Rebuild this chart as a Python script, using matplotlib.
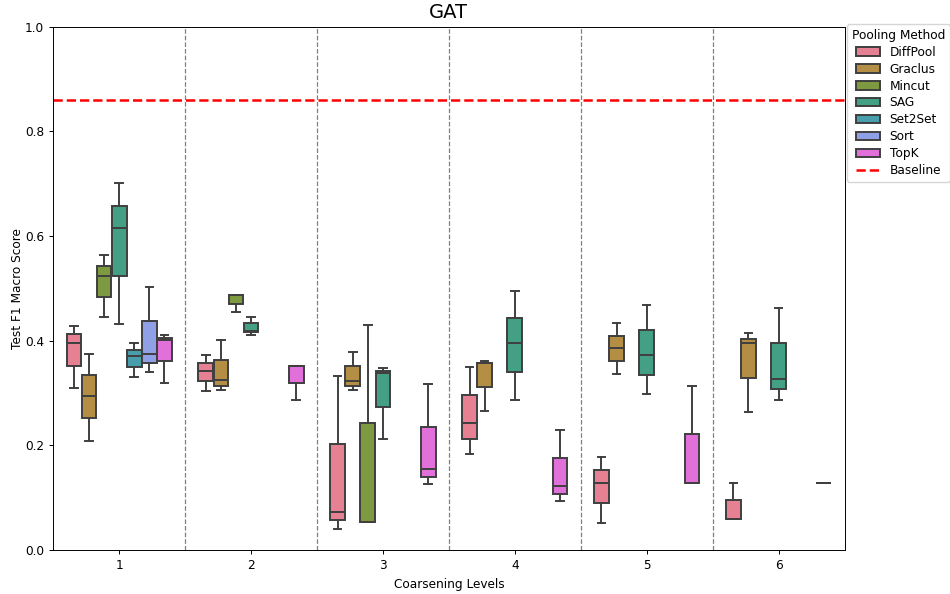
import matplotlib
matplotlib.use("Agg")
import matplotlib.pyplot as plt
from matplotlib.patches import Patch
from matplotlib.lines import Line2D
import seaborn as sns

levels = ["1", "2", "3", "4", "5", "6"]
methods = ["DiffPool", "Graclus", "Mincut", "SAG", "Set2Set", "Sort", "TopK"]
baseline = 0.86

# five-number summaries per method: (level, whislo, q1, med, q3, whishi)
diffpool = [(1, 0.309, 0.352, 0.395, 0.412, 0.429),
            (2, 0.303, 0.323, 0.342, 0.358, 0.373),
            (3, 0.041, 0.057, 0.073, 0.202, 0.332),
            (4, 0.183, 0.212, 0.242, 0.296, 0.349),
            (5, 0.052, 0.090, 0.129, 0.153, 0.178),
            (6, 0.059, 0.059, 0.059, 0.095, 0.129)]
graclus = [(1, 0.208, 0.252, 0.295, 0.335, 0.374),
           (2, 0.305, 0.314, 0.325, 0.363, 0.402),
           (3, 0.306, 0.314, 0.323, 0.351, 0.379),
           (4, 0.266, 0.311, 0.358, 0.358, 0.361),
           (5, 0.336, 0.361, 0.386, 0.409, 0.433),
           (6, 0.263, 0.328, 0.395, 0.403, 0.414)]
mincut = [(1, 0.446, 0.484, 0.524, 0.543, 0.564),
          (2, 0.454, 0.471, 0.487, 0.488, 0.488),
          (3, 0.054, 0.054, 0.054, 0.242, 0.430)]
sag = [(1, 0.432, 0.524, 0.616, 0.658, 0.701),
       (2, 0.411, 0.416, 0.419, 0.433, 0.446),
       (3, 0.212, 0.274, 0.339, 0.342, 0.347),
       (4, 0.286, 0.340, 0.395, 0.444, 0.495),
       (5, 0.298, 0.334, 0.372, 0.420, 0.468),
       (6, 0.287, 0.307, 0.327, 0.395, 0.463)]
set2set = [(1, 0.330, 0.350, 0.370, 0.382, 0.395)]
sort = [(1, 0.340, 0.358, 0.375, 0.438, 0.502)]
topk = [(1, 0.320, 0.361, 0.402, 0.406, 0.411),
        (2, 0.287, 0.319, 0.351, 0.351, 0.352),
        (3, 0.126, 0.140, 0.154, 0.236, 0.317),
        (4, 0.094, 0.108, 0.122, 0.175, 0.229),
        (5, 0.129, 0.129, 0.129, 0.222, 0.314),
        (6, 0.129, 0.129, 0.129, 0.129, 0.129)]
summaries = [diffpool, graclus, mincut, sag, set2set, sort, topk]

palette = [sns.desaturate(c, 0.75) for c in sns.color_palette("husl", len(methods))]
edge = "#3f3f3f"
lw = 1.4

plt.rcParams.update({
    "font.size": 8.7,
    "xtick.major.size": 3,
    "ytick.major.size": 3,
    "xtick.major.width": 0.7,
    "ytick.major.width": 0.7,
    "axes.linewidth": 0.7,
})

fig = plt.figure(figsize=(9.5, 5.94), dpi=100)
ax = fig.add_axes([0.056, 0.074, 0.833, 0.881])

n = len(methods)
w = 0.8 / n
for i, (name, rows) in enumerate(zip(methods, summaries)):
    offset = -0.4 + w * (i + 0.5)
    stats, pos = [], []
    for lvl, lo, q1, med, q3, hi in rows:
        stats.append(dict(whislo=lo, q1=q1, med=med, q3=q3, whishi=hi, fliers=[]))
        pos.append(levels.index(str(lvl)) + offset)
    ax.bxp(stats, positions=pos, widths=w * 0.98, patch_artist=True,
           showfliers=False, capwidths=w * 0.5,
           boxprops=dict(facecolor=palette[i], edgecolor=edge, linewidth=lw),
           medianprops=dict(color=edge, linewidth=lw),
           whiskerprops=dict(color=edge, linewidth=lw),
           capprops=dict(color=edge, linewidth=lw),
           manage_ticks=False)

for k in range(len(levels) - 1):
    ax.axvline(k + 0.5, color="gray", linestyle="--", linewidth=0.9)

ax.axhline(baseline, color="red", linestyle="--", linewidth=1.8)

ax.set_xlim(-0.5, len(levels) - 0.5)
ax.set_ylim(0, 1)
ax.set_xticks(range(len(levels)))
ax.set_xticklabels(levels)
ax.set_xlabel("Coarsening Levels")
ax.set_ylabel("Test F1 Macro Score", labelpad=1)
ax.set_title("GAT", fontsize=14)

handles = [Patch(facecolor=palette[i], edgecolor=edge, linewidth=lw, label=m)
           for i, m in enumerate(methods)]
handles.append(Line2D([0], [0], color="red", linestyle="--", linewidth=1.8, label="Baseline"))
ax.legend(handles=handles, title="Pooling Method", loc="upper left",
          bbox_to_anchor=(1.003, 1.005), fontsize=8.7, title_fontsize=8.7,
          borderaxespad=0, labelspacing=0.32)

fig.savefig("out.png", dpi=100)
